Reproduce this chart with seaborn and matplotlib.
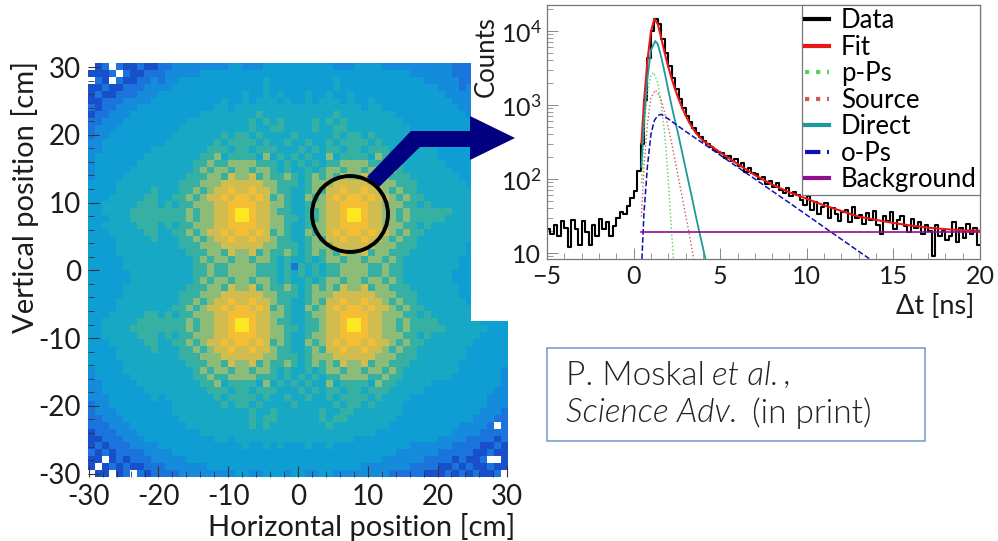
import numpy as np
import pandas as pd
import matplotlib
matplotlib.use("Agg")
import matplotlib.pyplot as plt
from matplotlib.colors import LinearSegmentedColormap
from matplotlib.patches import Polygon, Rectangle, Ellipse
from matplotlib.ticker import FixedLocator, FuncFormatter
import seaborn as sns

# levels, w = empty white cell
map_rows = [
    "w01w100100 1122222222 3322233333 3333322233 3322222222 2211100000",
    "0001w10011 1222223333 3333333333 3333333333 3333332222 2211110100",
    "w10w100112 1223333333 3333343333 3333343333 3333333322 2221111010",
    "0010011122 2233333333 3333343333 3333343333 3333333333 2221211100",
    "0100111222 3333333333 3343343433 3433433433 3333333333 3222211110",
    "0011122223 3333333334 3343444343 3434443433 4333333333 3322221111",
    "1011222333 3333333344 3444444444 4444444443 4433333333 3332222111",
    "0112223333 3333334444 4444544444 4444454444 4444333333 3333222211",
    "1122233333 3333444444 4445454544 4454545444 4444433333 3333322211",
    "1222333333 3334444444 4445445544 4454455444 4444443333 3333332221",
    "1223333333 3344444445 4554544445 4444454554 5444444433 3333333222",
    "2233333333 3444444454 5555454454 4544545555 4544444443 3333333322",
    "2233333334 4444444555 4554555444 5454554554 5554444444 3333333322",
    "2333333344 4444445564 5555464545 4544645555 4655444444 3333333332",
    "2333333444 4444455655 6666555454 5454556666 5565544444 4333333332",
    "2333334444 4444456566 5665665454 4545665665 6656544444 4433333332",
    "2333344444 4444555665 7667565565 4565657667 5665554444 4443333332",
    "3333444444 4445556667 7777766555 4566677777 7666555444 4444333333",
    "3333444445 4445565677 8778776554 4565778778 7765655444 4444433333",
    "3334444455 4455656778 7887875654 4656787887 8776565544 4444443333",
    "3344444555 4545566677 8888776654 4566778888 7766655454 4444443333",
    "3344445555 5555656677 8998776554 4556778998 7766565555 5544444333",
    "3334445555 5555656677 8998776655 4556778998 7766565555 5444444333",
    "3344444555 4545566677 8888776654 4566778888 7766655454 4444443333",
    "3334444455 4455656778 7887875654 4656787887 8776565544 4444443333",
    "3333444445 4445565677 8778776554 4565778778 7765655444 4444433333",
    "3333444444 4445556667 7777766555 4566677777 7666555444 4444333333",
    "3333444444 4444555665 7667565565 4565657667 5665554444 4444333333",
    "3333344444 4444456566 5665665454 4545665665 6656544444 4443333333",
    "3333344444 4444455655 6666555451 5454556666 5565544444 4443333333",
    "3333334444 4444455655 6666555454 5454556666 5565544444 4433333333",
    "3333334444 4444456566 5665665454 4545665665 6656544444 4433333333",
    "3333344444 4444555665 7667565565 4565657667 5665554444 4443333333",
    "3333344444 4445556667 7777766555 4566677777 7666555444 4443333333",
    "3333444444 4445565677 8778776554 4565778778 7765655444 4444333333",
    "3333444444 4455656778 7887875654 4656787887 8776565544 4444433333",
    "3334444455 4545566677 8888776654 4566778888 7766655454 4444433333",
    "3344444555 5555656677 8998776554 4556778998 7766565555 4444443333",
    "3344445555 5555656677 8998776655 4556778998 7766565555 5444444333",
    "3344444555 4545566677 8888776654 4566778888 7766655454 4444443333",
    "3334444455 4455656778 7887875654 4656787887 8776565544 4444433333",
    "3333444445 4445565677 8778776554 4565778778 7765655444 4444333333",
    "3333444444 4445556667 7777766555 4566677777 7666555444 4444333333",
    "3333344444 4444555665 7667565565 4565657667 5665554444 4443333333",
    "2333344444 4444456566 5665665454 4545665665 6656544444 4443333332",
    "2333334444 4444455655 6666555454 5454556666 5565544444 4433333332",
    "2233333444 4444445564 5555464545 4544645555 4655444443 3333333332",
    "2233333344 4444444555 4554555444 5454554554 5554444433 3333333322",
    "2223333334 3444444454 5555454454 4544545555 4544443333 3333333222",
    "1223333333 3344444445 4554544445 4444454554 5444433333 3333333222",
    "1222333333 3344444444 4445445444 4445445544 4444433333 3333332221",
    "1122233333 3334444444 4445455444 4445455444 4444333333 3333322211",
    "1112223333 3333444444 4445454444 4444544444 4443333333 33322221w1",
    "0111222333 3333334444 4444444444 4444444444 4333333333 3322221111",
    "0011122233 3333333344 3444444444 4444444433 3333333333 2222111101",
    "0101112222 3333333333 3343343433 3433433333 3333332222 2211110010",
    "1010111122 2233333333 3333333333 3333333333 3333222222 1111100100",
    "00w0101112 2222333333 3333333333 3333333333 3322222211 1101001ww0",
    "0w01010011 1222222333 3333333333 3333333332 2222221111 0010100100",
    "w00w01w101 1112222222 2332233323 3223322222 2221111100 010101001w",
]
map_colors = ["#1850cc", "#1a74dc", "#158cdc", "#0f9ed4", "#16a8c4",
              "#34b0a4", "#8cbc78", "#d0bc50", "#f4bf34", "#fce820"]
map_ticks = [-30, -20, -10, 0, 10, 20, 30]

# decay spectrum, 0.2 ns bins from -5 to 20
dt_edges = np.arange(126) * 0.2 - 5
data_counts = [21, 18, 24, 17, 27, 22, 12, 28, 21, 13,
               27, 19, 13, 24, 17, 29, 21, 26, 17, 23,
               30, 36, 34, 43, 55,
               68, 130, 300, 1150, 4300,
               10000, 14500, 12500, 7800, 5100,
               3350, 2300, 1650, 1220, 920,
               720, 590, 490, 420, 370,
               330, 295, 270, 250, 235,
               225, 190, 205, 175, 185,
               150, 165, 125, 140, 120,
               115, 100, 105, 85, 95,
               78, 88, 70, 65, 76,
               58, 66, 60, 52, 44,
               58, 38, 49, 34, 42,
               47, 30, 40, 34, 27,
               36, 38, 26, 42, 30,
               33, 25, 35, 28, 37,
               24, 18, 32, 27, 36,
               21, 28, 32, 23, 19,
               29, 22, 26, 18, 24,
               20, 9, 24, 17, 20,
               15, 17, 26, 14, 22,
               16, 25, 18, 22, 13]

fit_t = [0.45, 0.6, 0.8, 1.0, 1.2, 1.4, 1.6, 1.8, 2.0, 2.2, 2.4, 2.6, 2.8, 3.0, 3.2, 3.4, 3.6, 3.8,
         4, 4.5, 5, 6, 7, 8, 9, 10, 11, 12, 13, 14, 15, 16, 17, 18, 19, 20]
fit_y = [300, 1100, 4000, 9800, 14500, 12400, 7900, 5000, 3300, 2250, 1620, 1200, 920, 720, 590, 490, 420, 370,
         330, 275, 228, 160, 113, 84, 66, 54, 44, 37, 31, 28, 25.5, 23.5, 22, 21, 20.3, 20]
pps_t = [0.45, 0.6, 0.8, 1.0, 1.15, 1.4, 1.6, 1.8, 2.0, 2.2, 2.3]
pps_y = [88, 420, 1500, 2500, 2750, 2000, 1000, 400, 100, 18, 8.3]
source_t = [0.45, 0.6, 0.8, 1.0, 1.25, 1.4, 1.6, 1.8, 2.0, 2.2, 2.4, 2.6, 2.8, 3.0, 3.2, 3.47]
source_y = [31, 150, 560, 1250, 1590, 1450, 1150, 780, 500, 300, 175, 100, 58, 33, 19, 8.3]
direct_t = [0.45, 0.6, 0.8, 1.0, 1.25, 1.4, 1.6, 1.8, 2.0, 2.2, 2.4, 2.6, 2.8, 3.0, 3.2, 3.4, 3.6, 3.8, 4.15]
direct_y = [147, 600, 2300, 5500, 7300, 6600, 4400, 2700, 1600, 960, 600, 380, 230, 140, 85, 52, 31, 19, 8.3]
ops_t = [0.48, 0.6, 0.8, 1.0, 1.2, 1.4, 1.6, 1.8, 3, 5, 7, 9, 11.4, 13.6]
ops_y = [8.3, 35, 150, 400, 620, 720, 746, 700, 440, 210, 100, 47.5, 19.2, 8.4]
bg_t = [0.45, 20]
bg_y = [19.2, 19.2]
counts_ticks = [10, 100, 1000, 10000]
time_ticks = [-5, 0, 5, 10, 15, 20]

W, H = 998, 541
plt.rcParams["font.family"] = ["Lato", "DejaVu Sans"]
plt.rcParams["mathtext.fontset"] = "custom"
plt.rcParams["mathtext.rm"] = "Lato"
text_c = "#1c1c1c"


def px_box(left, top, right, bottom):
    return [left / W, 1 - bottom / H, (right - left) / W, (bottom - top) / H]


def px(x, y):
    return (x / W, 1 - y / H)


fig = plt.figure(figsize=(W / 100, H / 100), dpi=100)

# position map
ax = fig.add_axes(px_box(88, 63, 508, 477))
levels = np.array([[np.nan if c == "w" else int(c) for c in r.replace(" ", "")] for r in map_rows])
cmap = LinearSegmentedColormap.from_list("map", map_colors)
sns.heatmap(levels, cmap=cmap, vmin=0, vmax=9, cbar=False, ax=ax, xticklabels=False, yticklabels=False)
xmin, xmax = -30.1, 30.1
ymin, ymax = -30.5, 30.6
nrow, ncol = levels.shape
ax.set_xticks([(v - xmin) / (xmax - xmin) * ncol for v in map_ticks])
ax.set_xticklabels(map_ticks)
ax.set_yticks([(ymax - v) / (ymax - ymin) * nrow for v in map_ticks])
ax.set_yticklabels(map_ticks, rotation=0)
ax.xaxis.set_minor_locator(FixedLocator([(v - xmin) / (xmax - xmin) * ncol for v in range(-30, 31, 2)]))
ax.yaxis.set_minor_locator(FixedLocator([(ymax - v) / (ymax - ymin) * nrow for v in range(-30, 31, 2)]))
ax.tick_params(which="major", direction="in", length=8, width=0.8, color="#333333", labelsize=20, labelcolor=text_c, pad=5)
ax.tick_params(which="minor", direction="in", length=4, width=0.6, color="#333333")
fig.text(362 / W, 1 - 527 / H, "Horizontal position [cm]", fontsize=21, ha="center", va="center", color=text_c)
fig.text(25 / W, 1 - 197 / H, "Vertical position [cm]", fontsize=21, rotation=90, ha="center", va="center", color=text_c)

# white block behind the spectrum
fig.add_artist(Rectangle(px(471, 321), 39 / W, 321 / H, transform=fig.transFigure, fc="white", ec="none", zorder=1))

# spectrum
ax2 = fig.add_axes(px_box(547, 5, 980, 259))
ax2.set_zorder(2)
sns.histplot(x=dt_edges[:-1] + 0.1, weights=data_counts, bins=list(dt_edges), element="step", fill=False,
             color="black", linewidth=1.5, ax=ax2, label="Data")
curves = [
    (fit_t, fit_y, "Fit", "#e81818", "-", 1.5),
    (pps_t, pps_y, "p-Ps", "#58d058", ":", 1.0),
    (source_t, source_y, "Source", "#d05858", ":", 1.0),
    (direct_t, direct_y, "Direct", "#1f9a9a", "-", 1.3),
    (ops_t, ops_y, "o-Ps", "#1010b0", "--", 1.1),
    (bg_t, bg_y, "Background", "#901090", "-", 1.2),
]
for t, y, name, col, ls, lw in curves:
    df = pd.DataFrame({"t": t, "y": y})
    sns.lineplot(data=df, x="t", y="y", color=col, linestyle=ls, linewidth=lw, ax=ax2, label=name,
                 estimator=None, sort=False)
ax2.set_yscale("log")
ax2.set_xlim(-5, 20)
ax2.set_ylim(8.3, 22400)
ax2.set_xticks(time_ticks)
ax2.xaxis.set_minor_locator(FixedLocator(np.arange(-5, 20.5, 1)))
ax2.set_yticks(counts_ticks)
ax2.yaxis.set_major_formatter(FuncFormatter(lambda v, p: "10" if v == 10 else r"$\mathregular{10^{%d}}$" % round(np.log10(v))))
ax2.tick_params(which="major", direction="in", length=8, width=0.7, color="#888888", labelsize=18, labelcolor=text_c, pad=4)
ax2.tick_params(which="minor", direction="in", length=4, width=0.6, color="#888888", labelleft=False)
for s in ax2.spines.values():
    s.set_color("#777777")
    s.set_linewidth(0.9)
ax2.set_xlabel("")
ax2.set_ylabel("")
fig.text(486 / W, 1 - 57 / H, "Counts", fontsize=18.5, rotation=90, ha="center", va="center", color=text_c)
fig.text(974 / W, 1 - 307 / H, "Δt [ns]", fontsize=19.5, ha="right", va="center", color=text_c)

handles, labels = ax2.get_legend_handles_labels()
leg = ax2.legend(handles, labels, loc="upper right", bbox_to_anchor=(1, 1), borderaxespad=0, fontsize=18.5,
                 frameon=True, fancybox=False, framealpha=1, edgecolor="#777777", handlelength=0.95,
                 handletextpad=0.45, labelspacing=0.06, borderpad=0.12)
leg.set_zorder(10)
leg.get_frame().set_linewidth(0.9)
for h in leg.get_lines():
    h.set_linewidth(3)

# arrow from the circled spot to the spectrum
arrow_px = [(367, 177), (411, 131), (470, 131), (470, 116), (515, 138), (470, 160), (470, 147), (420, 147), (379, 187)]
fig.add_artist(Polygon([px(*p) for p in arrow_px], transform=fig.transFigure, fc="#000080", ec="none", zorder=3))
fig.add_artist(Ellipse(px(350, 214), 76 / W, 76 / H, transform=fig.transFigure, fc="none", ec="black", lw=2.8, zorder=4))

# citation box
fig.add_artist(Rectangle(px(546.5, 441), 378.5 / W, 93 / H, transform=fig.transFigure, fc="white", ec="#7296d0", lw=1.1, zorder=1))
cite = [
    (566, 376, "P. Moskal", "normal"),
    (712, 376, "et al.", "italic"),
    (783, 376, ",", "normal"),
    (566, 413, "Science Adv.", "italic"),
    (752, 413, "(in print)", "normal"),
]
for x, y, s, style in cite:
    fig.text(x / W, 1 - y / H, s, fontsize=24, style=style, fontweight=300, ha="left", va="center", color="#222222", zorder=5)

fig.savefig("out.png", dpi=100)
